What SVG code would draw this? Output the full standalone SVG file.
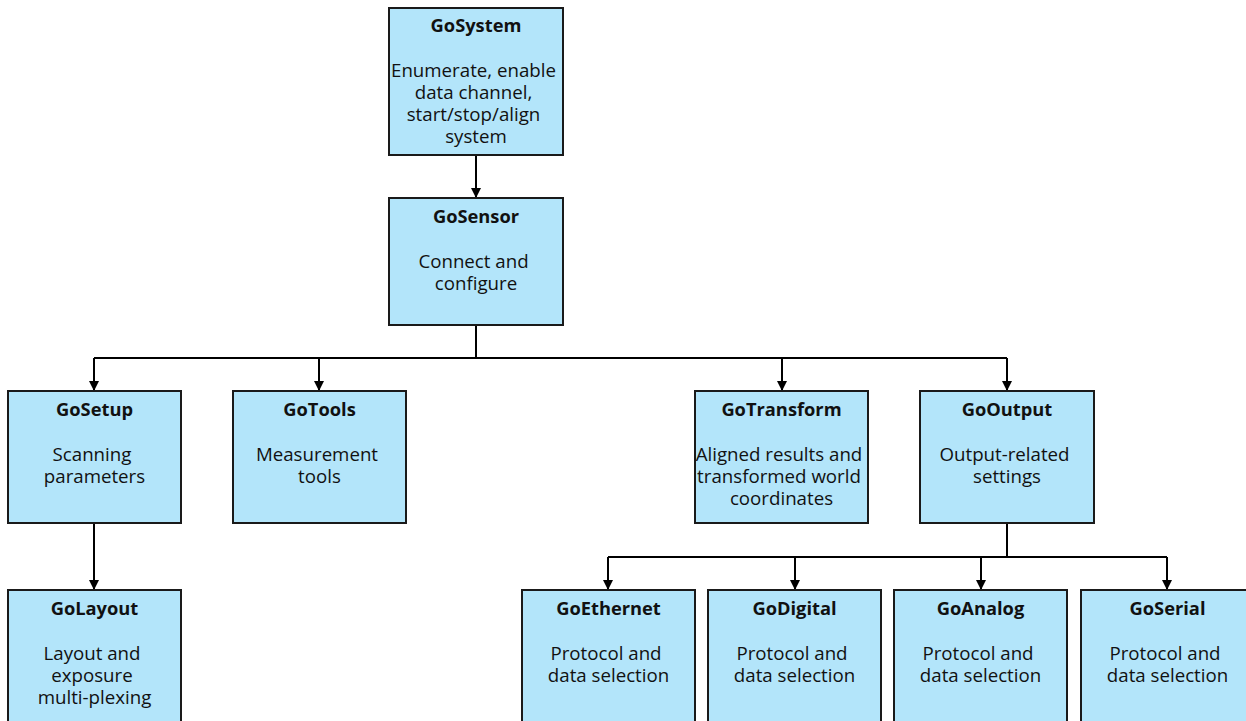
<svg xmlns="http://www.w3.org/2000/svg" width="1246" height="721" viewBox="0 0 1246 721">
<style>
.box{fill:#b3e5fa;stroke:#1a1a1a;stroke-width:2}
.t{font-family:"Open Sans","Noto Sans","DejaVu Sans",sans-serif;font-size:18.7px;fill:#111;text-anchor:middle}
.b{font-weight:bold;font-size:18.3px}
.c{fill:none;stroke:#000;stroke-width:2}
</style>
<defs>
<marker id="ah" markerWidth="10" markerHeight="10" refX="10" refY="5" orient="auto" markerUnits="userSpaceOnUse">
<path d="M0,0 L10,5 L0,10 Z" fill="#000"/>
</marker>
</defs>
<rect width="1246" height="721" fill="#fff"/>
<g id="connectors">
<path class="c" d="M476,155 V198" marker-end="url(#ah)"/>
<path class="c" d="M476,325 V358 M94,358 H1007"/>
<path class="c" d="M94,358 V391" marker-end="url(#ah)"/>
<path class="c" d="M319,358 V391" marker-end="url(#ah)"/>
<path class="c" d="M782,358 V391" marker-end="url(#ah)"/>
<path class="c" d="M1007,358 V391" marker-end="url(#ah)"/>
<path class="c" d="M94,523 V590" marker-end="url(#ah)"/>
<path class="c" d="M1007,523 V557 M608,557 H1167"/>
<path class="c" d="M608,557 V590" marker-end="url(#ah)"/>
<path class="c" d="M795,557 V590" marker-end="url(#ah)"/>
<path class="c" d="M981,557 V590" marker-end="url(#ah)"/>
<path class="c" d="M1167,557 V590" marker-end="url(#ah)"/>
</g>
<g id="GoSystem">
<rect class="box" x="389" y="8" width="174" height="147"/>
<text class="t b" x="476" y="32">GoSystem</text>
<text class="t" x="473.5" y="77">Enumerate, enable</text>
<text class="t" x="473.5" y="99">data channel,</text>
<text class="t" x="473.5" y="121">start/stop/align</text>
<text class="t" x="476" y="143">system</text>
</g>
<g id="GoSensor">
<rect class="box" x="389" y="198" width="174" height="127"/>
<text class="t b" x="476" y="223">GoSensor</text>
<text class="t" x="473.5" y="268">Connect and</text>
<text class="t" x="476" y="290">configure</text>
</g>
<g id="GoSetup">
<rect class="box" x="8" y="391" width="173" height="132"/>
<text class="t b" x="94.5" y="416">GoSetup</text>
<text class="t" x="92" y="461">Scanning</text>
<text class="t" x="94.5" y="483">parameters</text>
</g>
<g id="GoTools">
<rect class="box" x="233" y="391" width="173" height="132"/>
<text class="t b" x="319.5" y="416">GoTools</text>
<text class="t" x="317" y="461">Measurement</text>
<text class="t" x="319.5" y="483">tools</text>
</g>
<g id="GoTransform">
<rect class="box" x="695" y="391" width="173" height="132"/>
<text class="t b" x="781.5" y="416">GoTransform</text>
<text class="t" x="779" y="461">Aligned results and</text>
<text class="t" x="779" y="483">transformed world</text>
<text class="t" x="781.5" y="505">coordinates</text>
</g>
<g id="GoOutput">
<rect class="box" x="920" y="391" width="174" height="132"/>
<text class="t b" x="1007" y="416">GoOutput</text>
<text class="t" x="1004.5" y="461">Output-related</text>
<text class="t" x="1007" y="483">settings</text>
</g>
<g id="GoLayout">
<rect class="box" x="8" y="590" width="173" height="140"/>
<text class="t b" x="94.5" y="615">GoLayout</text>
<text class="t" x="92" y="660">Layout and</text>
<text class="t" x="92" y="682">exposure</text>
<text class="t" x="94.5" y="704">multi-plexing</text>
</g>
<g id="GoEthernet">
<rect class="box" x="522" y="590" width="173" height="140"/>
<text class="t b" x="608.5" y="615">GoEthernet</text>
<text class="t" x="606" y="660">Protocol and</text>
<text class="t" x="608.5" y="682">data selection</text>
</g>
<g id="GoDigital">
<rect class="box" x="708" y="590" width="173" height="140"/>
<text class="t b" x="794.5" y="615">GoDigital</text>
<text class="t" x="792" y="660">Protocol and</text>
<text class="t" x="794.5" y="682">data selection</text>
</g>
<g id="GoAnalog">
<rect class="box" x="894" y="590" width="173" height="140"/>
<text class="t b" x="980.5" y="615">GoAnalog</text>
<text class="t" x="978" y="660">Protocol and</text>
<text class="t" x="980.5" y="682">data selection</text>
</g>
<g id="GoSerial">
<rect class="box" x="1081" y="590" width="173" height="140"/>
<text class="t b" x="1167.5" y="615">GoSerial</text>
<text class="t" x="1165" y="660">Protocol and</text>
<text class="t" x="1167.5" y="682">data selection</text>
</g>
</svg>
